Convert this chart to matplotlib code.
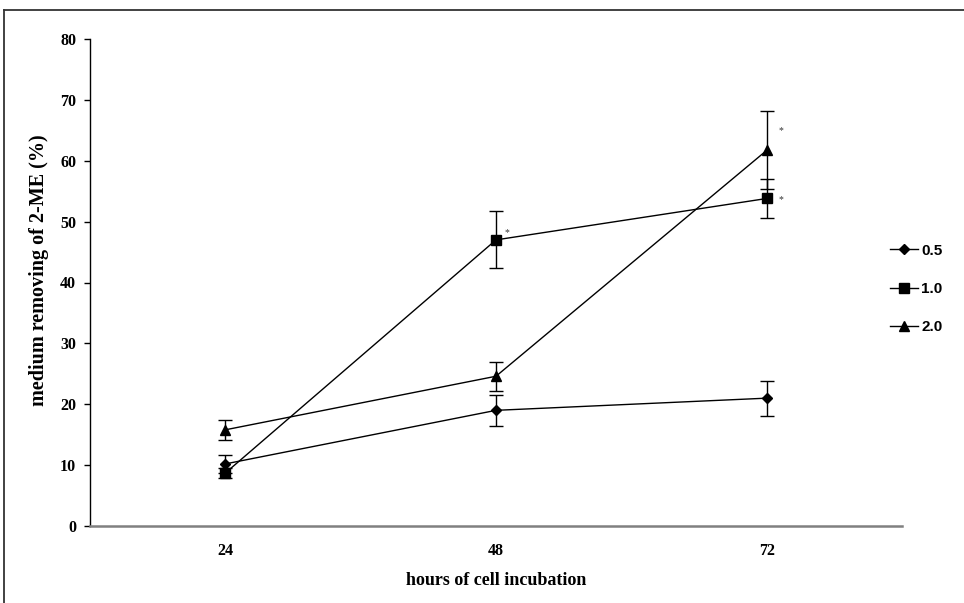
import matplotlib.pyplot as plt
from matplotlib.lines import Line2D

# data
hours = ["24", "48", "72"]
labels = ["0.5", "1.0", "2.0"]
markers = ["D", "s", "^"]
marker_sizes = [5.5, 6.5, 7]

mean_05 = [10.2, 19.0, 21.0]
err_05 = [1.5, 2.6, 2.9]
mean_10 = [8.7, 47.0, 53.8]
err_10 = [0.8, 4.7, 3.2]
mean_20 = [15.8, 24.6, 61.7]
err_20 = [1.6, 2.4, 6.4]

# significance marks: (series index, hour index)
stars = [(1, 1), (1, 2), (2, 2)]
star_offsets = {(1, 1): (8, 5), (1, 2): (10, -1), (2, 2): (10, 14)}

means = [mean_05, mean_10, mean_20]
errs = [err_05, err_10, err_20]

serif = ["Liberation Serif", "DejaVu Serif"]
sans = ["Liberation Sans", "DejaVu Sans"]

fig = plt.figure(figsize=(9.64, 6.03), dpi=100)
ax = fig.add_axes([90 / 964, 1 - 526 / 603, 812 / 964, 487 / 603])

x = list(range(1, len(hours) + 1))
handles = []
for m, e, lab, mk, ms in zip(means, errs, labels, markers, marker_sizes):
    ax.errorbar(x, m, yerr=e, color="black", linewidth=1.0, elinewidth=1.0,
                capsize=5, capthick=1.0, marker=mk, markersize=ms,
                markerfacecolor="black", markeredgecolor="black", zorder=3)
    handles.append(Line2D([], [], color="black", linewidth=1.0, marker=mk,
                          markersize=ms, markerfacecolor="black"))

for si, hi in stars:
    ax.annotate("*", (x[hi], means[si][hi]), xytext=star_offsets[(si, hi)],
                textcoords="offset points", fontsize=7, color="#333333",
                family=serif, ha="center", va="center")

ax.set_xlim(0.5, len(hours) + 0.5)
ax.set_ylim(0, 80)
ax.set_xticks(x)
ax.set_xticklabels(hours)
ax.set_yticks(range(0, 81, 10))
ax.tick_params(axis="x", length=0, pad=12)
ax.tick_params(axis="y", length=4, width=1, pad=6, direction="out")
for t in ax.get_xticklabels() + ax.get_yticklabels():
    t.set_fontfamily(serif)
    t.set_fontweight("bold")
    t.set_fontsize(11.5)

for s in ["top", "right"]:
    ax.spines[s].set_visible(False)
ax.spines["left"].set_color("black")
ax.spines["left"].set_linewidth(1.0)
ax.spines["bottom"].set_color("#808080")
ax.spines["bottom"].set_linewidth(1.8)

ax.set_xlabel("hours of cell incubation", fontsize=13, fontweight="bold",
              family=serif)
ax.xaxis.set_label_coords(0.5, -0.095)
ax.set_ylabel("medium removing of 2-ME (%)", fontsize=14.5, fontweight="bold",
              family=serif)
ax.yaxis.set_label_coords(-0.05, 0.525)

leg = fig.legend(handles, labels, loc="center left",
                 bbox_to_anchor=(876 / 964, 1 - 289 / 603), frameon=False,
                 handlelength=1.85, handletextpad=0.2, labelspacing=1.6,
                 prop={"family": sans, "weight": "bold", "size": 11})

# outer frame (only top and left edges visible in the crop)
fig.add_artist(Line2D([4 / 964, 4 / 964], [0, 1 - 10 / 603], color="#333333",
                      linewidth=1.3, transform=fig.transFigure))
fig.add_artist(Line2D([4 / 964, 1], [1 - 10 / 603, 1 - 10 / 603],
                      color="#333333", linewidth=1.3, transform=fig.transFigure))

fig.savefig("out.png", dpi=100)
